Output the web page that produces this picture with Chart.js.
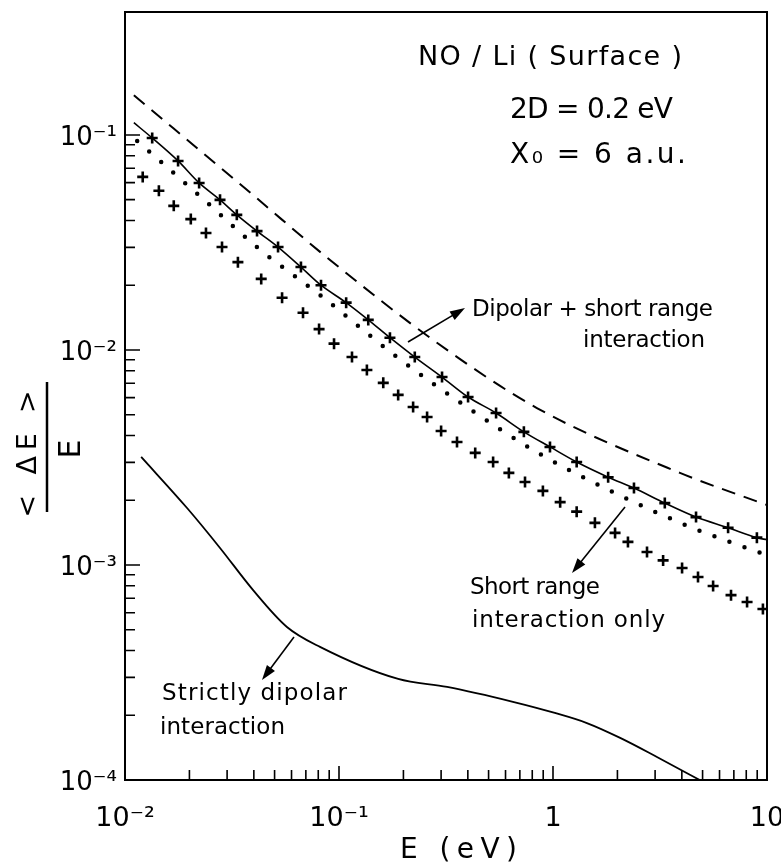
<!DOCTYPE html>
<html>
<head>
<meta charset="utf-8">
<script src="https://cdn.jsdelivr.net/npm/chart.js@4"></script>
<style>
  html, body { margin: 0; padding: 0; background: #fff; }
  #wrap { width: 781px; height: 868px; }
</style>
</head>
<body>
<div id="wrap"><canvas id="myChart"></canvas></div>
<script>
// E (eV) and <dE>/E, one pair of arrays per curve
const dashedE = [0.011, 0.0396, 0.0908, 0.287, 0.841, 3.92, 10];
const dashedVal = [0.153, 0.0526, 0.0262, 0.0108, 0.00537, 0.00268, 0.0019];

// solid line with crosses (first and last entries are the line ends)
const upperE = [0.011, 0.0134, 0.0177, 0.0222, 0.0278, 0.0333, 0.0414, 0.0519, 0.0664, 0.0824, 0.108, 0.137, 0.173, 0.226, 0.303, 0.401, 0.542, 0.731, 0.968, 1.29, 1.81, 2.39, 3.33, 4.66, 6.58, 8.97, 10];
const upperVal = [0.114, 0.0968, 0.0757, 0.0598, 0.0499, 0.0425, 0.0357, 0.0301, 0.0243, 0.0200, 0.0166, 0.0138, 0.0114, 0.00927, 0.00748, 0.00604, 0.00509, 0.00416, 0.00354, 0.00301, 0.00256, 0.00228, 0.00194, 0.00167, 0.00149, 0.00134, 0.00131];

const dottedE = [0.0114, 0.0229, 0.0418, 0.0834, 0.189, 0.396, 0.834, 1.95, 4.47, 10];
const dottedVal = [0.0938, 0.0509, 0.0298, 0.0177, 0.00918, 0.00543, 0.00336, 0.00216, 0.00149, 0.00111];

const lowerE = [0.0121, 0.0144, 0.0169, 0.0203, 0.0239, 0.0284, 0.0337, 0.0433, 0.0542, 0.0679, 0.0807, 0.0948, 0.115, 0.135, 0.161, 0.189, 0.222, 0.258, 0.300, 0.356, 0.433, 0.525, 0.622, 0.740, 0.897, 1.08, 1.29, 1.57, 1.95, 2.24, 2.75, 3.27, 4.01, 4.76, 5.60, 6.79, 8.07, 9.57];
const lowerVal = [0.0638, 0.0550, 0.0468, 0.0406, 0.0350, 0.0301, 0.0256, 0.0214, 0.0175, 0.0149, 0.0125, 0.0107, 0.00927, 0.00807, 0.00703, 0.00618, 0.00543, 0.00488, 0.00420, 0.00373, 0.00332, 0.00301, 0.00268, 0.00243, 0.00221, 0.00196, 0.00177, 0.00157, 0.00141, 0.00128, 0.00115, 0.00105, 0.000968, 0.000879, 0.000798, 0.000724, 0.000673, 0.000624];

// strictly dipolar interaction
const dipolarE = [0.0119, 0.0195, 0.0278, 0.0396, 0.0571, 0.0815, 0.189, 0.320, 0.650, 1.02, 1.44, 2.06, 3.06, 5.13];
const dipolarVal = [0.00318, 0.00184, 0.00120, 0.000766, 0.000515, 0.000416, 0.000295, 0.000271, 0.000231, 0.000205, 0.000184, 0.000157, 0.000128, 0.000097];

const xTicks = [0.01, 0.1, 1, 10];
const xTickLabels = ['10⁻²', '10⁻¹', '1', '10'];
const yTicks = [1e-4, 1e-3, 1e-2, 1e-1];
const yTickLabels = ['10⁻⁴', '10⁻³', '10⁻²', '10⁻¹'];

const FONT = '"DejaVu Sans", sans-serif';

function pts(xs, ys) {
    return xs.map((e, i) => ({ x: e, y: ys[i] }));
}

function txt(ctx, s, x, y, size, width) {
    ctx.font = size + 'px ' + FONT;
    ctx.letterSpacing = '0px';
    if (width) {
        const w = ctx.measureText(s).width;
        ctx.letterSpacing = ((width - w) / Math.max(1, s.length - 1)) + 'px';
    }
    ctx.fillText(s, x, y);
    ctx.letterSpacing = '0px';
}

function arrow(ctx, x1, y1, x2, y2) {
    const a = Math.atan2(y2 - y1, x2 - x1);
    const L = 15, W = 5;
    ctx.beginPath();
    ctx.moveTo(x1, y1);
    ctx.lineTo(x2 - L * 0.7 * Math.cos(a), y2 - L * 0.7 * Math.sin(a));
    ctx.stroke();
    ctx.beginPath();
    ctx.moveTo(x2, y2);
    ctx.lineTo(x2 - L * Math.cos(a) + W * Math.sin(a), y2 - L * Math.sin(a) - W * Math.cos(a));
    ctx.lineTo(x2 - L * Math.cos(a) - W * Math.sin(a), y2 - L * Math.sin(a) + W * Math.cos(a));
    ctx.closePath();
    ctx.fill();
}

const frameAndNotes = {
    id: 'frameAndNotes',
    afterDraw(chart) {
        const { ctx, chartArea: a } = chart;
        const xs = chart.scales.x, ys = chart.scales.y;
        ctx.save();
        ctx.strokeStyle = '#000';
        ctx.fillStyle = '#000';

        // frame
        ctx.lineWidth = 2;
        ctx.strokeRect(a.left, a.top, a.right - a.left, a.bottom - a.top);

        // inward ticks
        ctx.lineWidth = 1.6;
        ctx.beginPath();
        for (let e = -2; e <= 0; e++) {
            for (let m = 1; m <= 9; m++) {
                const px = xs.getPixelForValue(m * Math.pow(10, e));
                ctx.moveTo(px, a.bottom);
                ctx.lineTo(px, a.bottom - (m === 1 ? 14 : 10));
            }
        }
        for (let e = -4; e <= -2; e++) {
            for (let m = 1; m <= 9; m++) {
                const py = ys.getPixelForValue(m * Math.pow(10, e));
                ctx.moveTo(a.left, py);
                ctx.lineTo(a.left + (m === 1 ? 15 : 10), py);
            }
        }
        const pTop = ys.getPixelForValue(0.1);
        ctx.moveTo(a.left, pTop);
        ctx.lineTo(a.left + 15, pTop);
        ctx.stroke();

        // notes
        ctx.textAlign = 'left';
        ctx.textBaseline = 'alphabetic';
        txt(ctx, 'NO / Li ( Surface )', 418, 65, 27, 264);
        txt(ctx, '2D = 0.2 eV', 510, 118, 28, 163);
        txt(ctx, 'X₀ = 6 a.u.', 510, 163, 28, 176);
        txt(ctx, 'Dipolar + short range', 472, 316, 23, 241);
        txt(ctx, 'interaction', 583, 347, 23, 122);
        txt(ctx, 'Short range', 470, 594, 23, 130);
        txt(ctx, 'interaction only', 472, 627, 23, 193);
        txt(ctx, 'Strictly dipolar', 162, 700, 23, 185);
        txt(ctx, 'interaction', 160, 734, 23, 125);
        txt(ctx, 'E (eV)', 400, 858, 28, 117);

        ctx.lineWidth = 1.6;
        arrow(ctx, 408, 342, 465, 308);
        arrow(ctx, 625, 507, 572, 573);
        arrow(ctx, 294, 637, 262, 680);

        // y title: <dE> over E, rotated
        ctx.textAlign = 'center';
        ctx.save();
        ctx.translate(36, 451);
        ctx.rotate(-Math.PI / 2);
        txt(ctx, '< ΔE >', 0, 0, 27, 127);
        ctx.restore();
        ctx.save();
        ctx.translate(80, 449);
        ctx.rotate(-Math.PI / 2);
        txt(ctx, 'E', 0, 0, 30);
        ctx.restore();
        ctx.lineWidth = 2.5;
        ctx.beginPath();
        ctx.moveTo(47, 382);
        ctx.lineTo(47, 512);
        ctx.stroke();

        ctx.restore();
    }
};

window.onload = () => {
    const data = {
        datasets: [
            {
                data: pts(dashedE, dashedVal),
                showLine: true,
                borderColor: '#000',
                borderWidth: 2,
                borderDash: [14, 9],
                pointRadius: 0,
                cubicInterpolationMode: 'monotone'
            },
            {
                data: pts(upperE, upperVal),
                showLine: true,
                borderColor: '#000',
                borderWidth: 1.6,
                pointStyle: 'cross',
                pointRadius: c => (c.dataIndex === 0 || c.dataIndex === upperE.length - 1) ? 0 : 5.5,
                pointBorderWidth: 2.6,
                pointBorderColor: '#000',
                cubicInterpolationMode: 'monotone'
            },
            {
                data: pts(dottedE, dottedVal),
                showLine: true,
                borderColor: '#000',
                borderWidth: 4.5,
                borderDash: [0, 16],
                borderCapStyle: 'round',
                pointRadius: 0,
                cubicInterpolationMode: 'monotone'
            },
            {
                data: pts(lowerE, lowerVal),
                showLine: false,
                pointStyle: 'cross',
                pointRadius: 5.5,
                pointBorderWidth: 2.6,
                pointBorderColor: '#000'
            },
            {
                data: pts(dipolarE, dipolarVal),
                showLine: true,
                borderColor: '#000',
                borderWidth: 1.8,
                pointRadius: 0,
                cubicInterpolationMode: 'monotone'
            }
        ]
    };

    const config = {
        type: 'scatter',
        data: data,
        options: {
            responsive: true,
            maintainAspectRatio: false,
            animation: false,
            layout: { padding: { top: 12, right: 14, left: 0, bottom: 0 } },
            plugins: {
                legend: { display: false },
                tooltip: { enabled: false }
            },
            scales: {
                x: {
                    type: 'logarithmic',
                    min: 0.01,
                    max: 10,
                    grid: { display: false, drawTicks: false },
                    border: { display: false },
                    afterBuildTicks: s => { s.ticks = xTicks.map(v => ({ value: v })); },
                    afterFit: s => {
                        s.height = 88;
                        s.paddingLeft = 0;
                        s.paddingRight = 0;
                    },
                    ticks: {
                        autoSkip: false,
                        maxRotation: 0,
                        padding: 23,
                        color: '#000',
                        font: { family: FONT, size: 27 },
                        callback: (v, i) => xTickLabels[i]
                    }
                },
                y: {
                    type: 'logarithmic',
                    min: 1e-4,
                    max: 0.373,
                    grid: { display: false, drawTicks: false },
                    border: { display: false },
                    afterBuildTicks: s => { s.ticks = yTicks.map(v => ({ value: v })); },
                    afterFit: s => {
                        s.width = 125;
                        s.paddingTop = 0;
                        s.paddingBottom = 0;
                    },
                    ticks: {
                        autoSkip: false,
                        padding: 8,
                        labelOffset: 3,
                        color: '#000',
                        font: { family: FONT, size: 26 },
                        callback: (v, i) => yTickLabels[i]
                    }
                }
            }
        },
        plugins: [frameAndNotes]
    };

    const ctx = document.getElementById('myChart').getContext('2d');
    const myChart = new Chart(ctx, config);
};
</script>
</body>
</html>
